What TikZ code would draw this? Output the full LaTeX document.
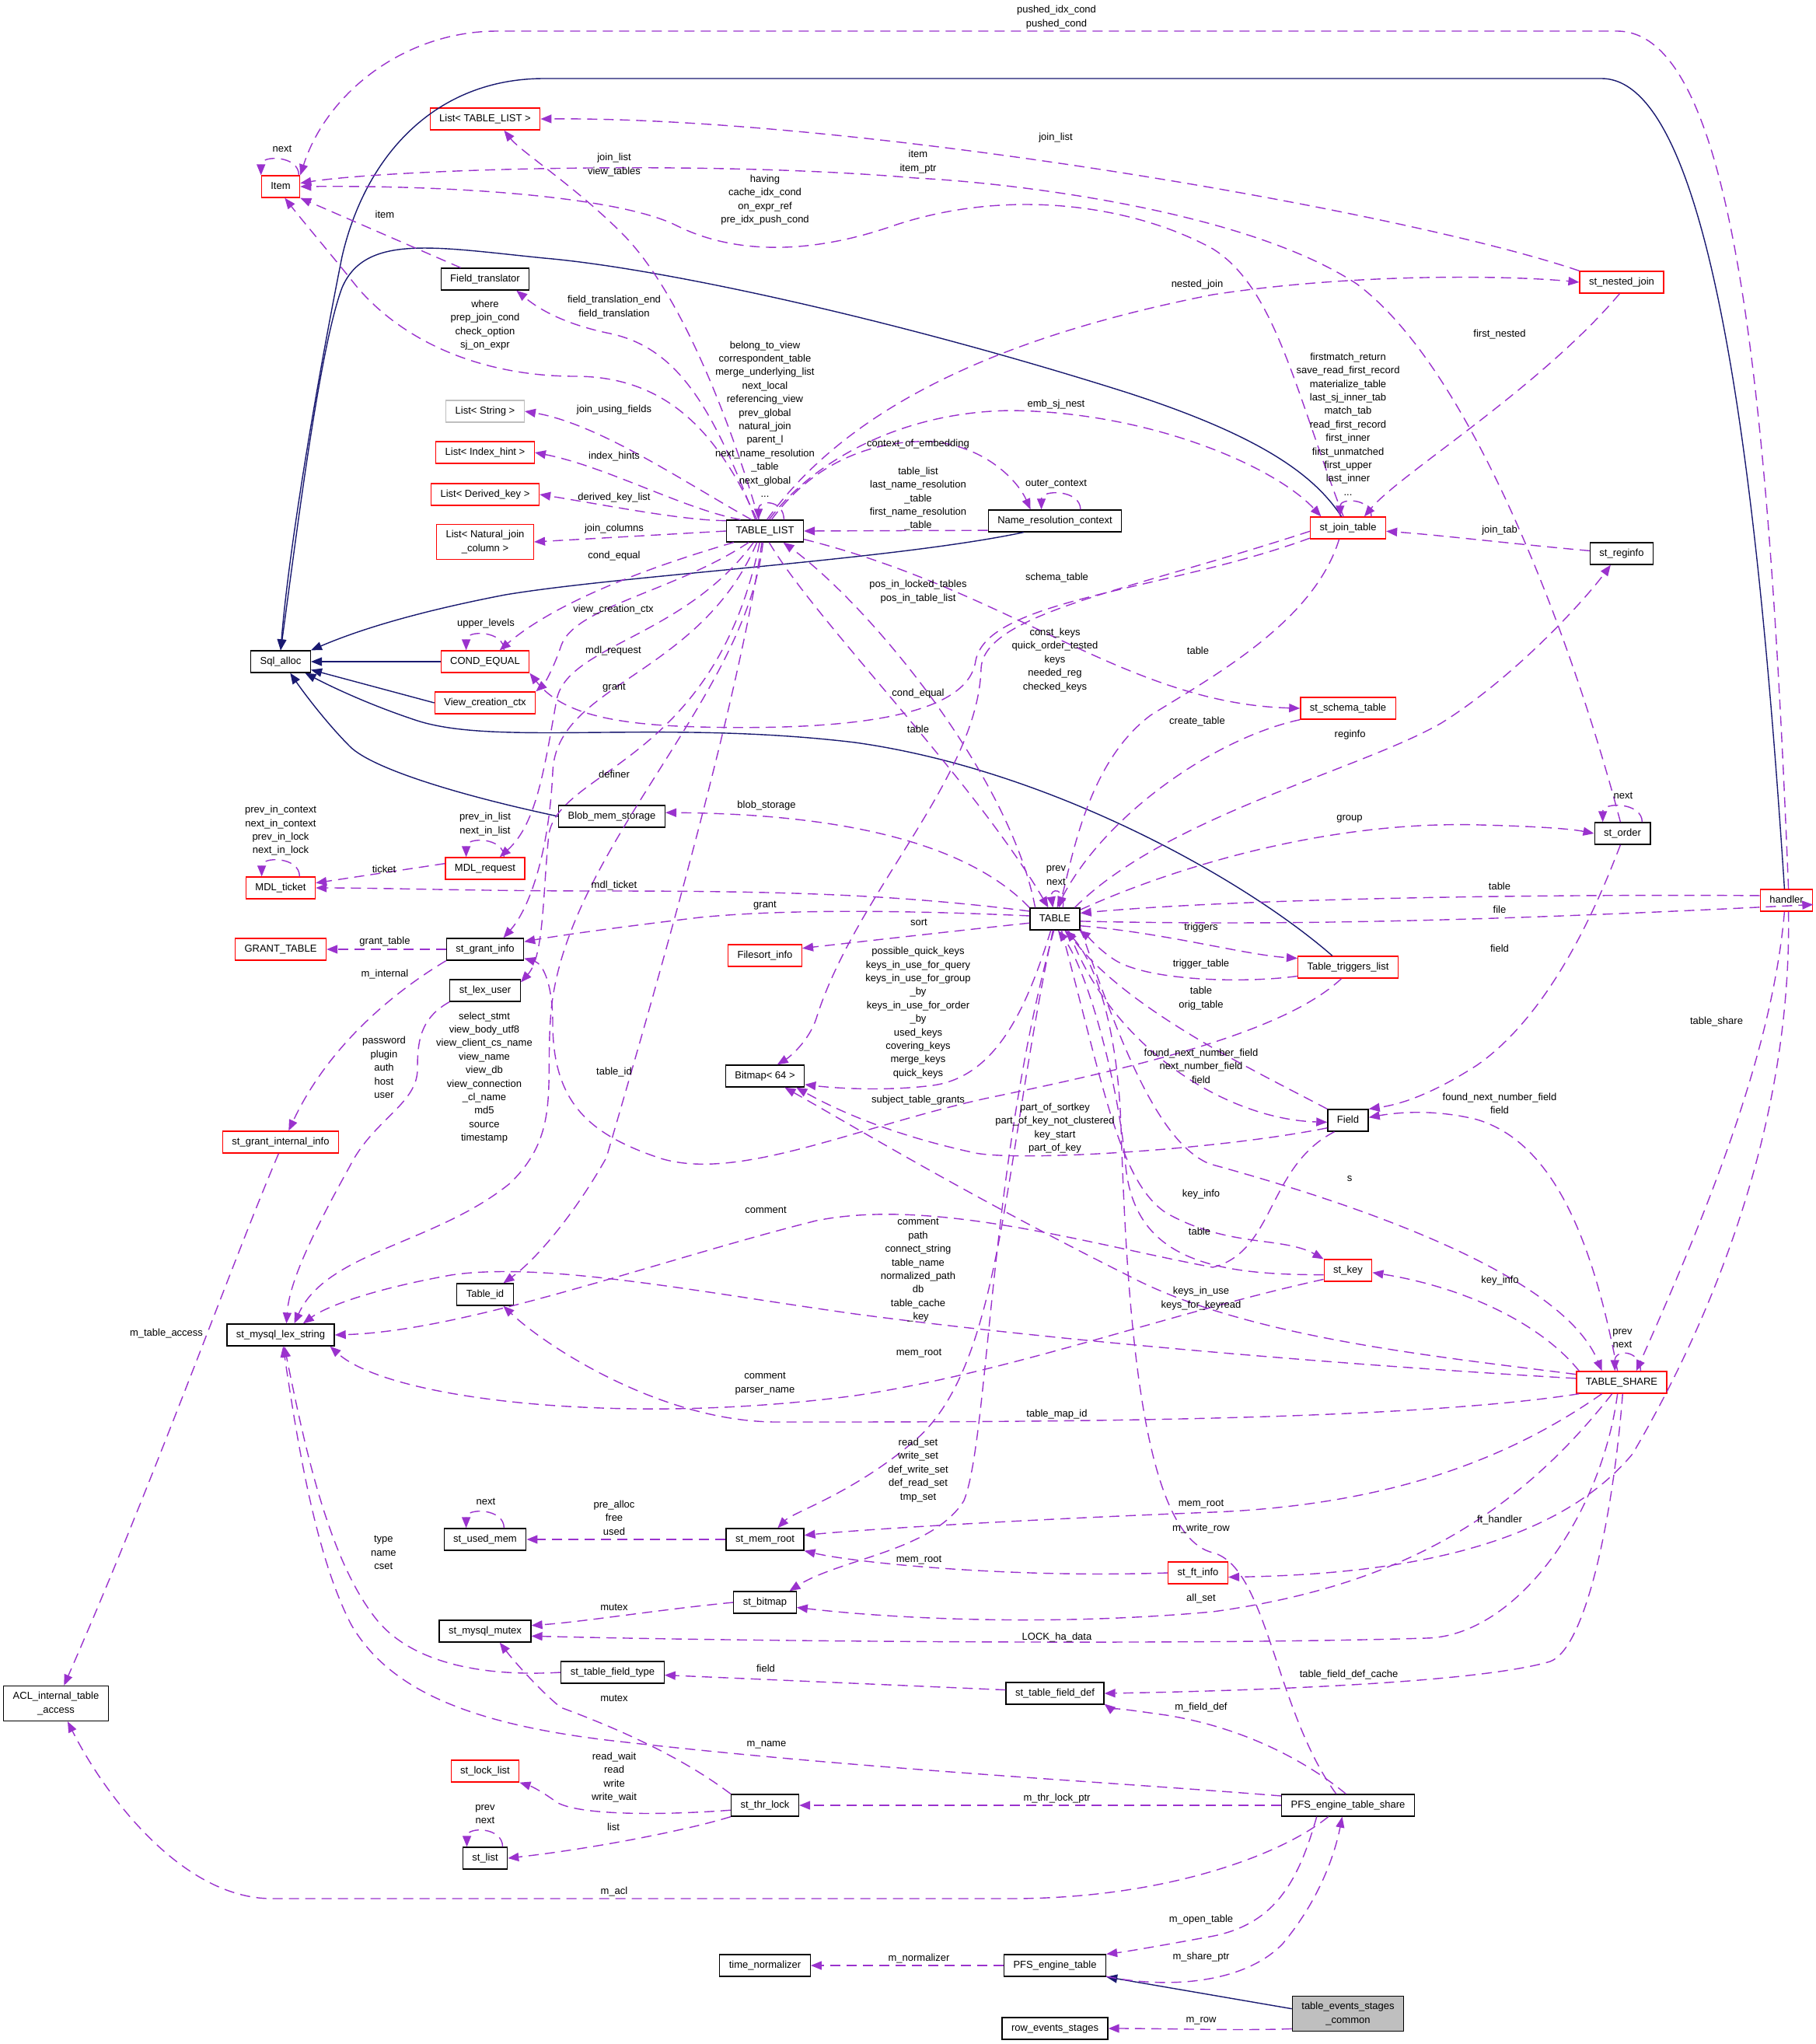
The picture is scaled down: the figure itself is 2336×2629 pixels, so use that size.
\documentclass[tikz,border=0pt]{standalone}
\usepackage{fontspec}
\setmainfont{Liberation Sans}
\usepackage{tikz}
\usetikzlibrary{arrows.meta}
\definecolor{edgepurple}{HTML}{9A32CD}
\definecolor{edgenavy}{HTML}{191970}
\definecolor{boxred}{HTML}{FF0000}
\definecolor{boxgray}{HTML}{BFBFBF}

\begin{document}
\begin{tikzpicture}[x=1pt, y=-1pt,
  every node/.style={font=\fontsize{13}{17.4}\selectfont},
  cls/.style={draw=black, line width=1.3pt, fill=white, inner xsep=12pt, inner ysep=7.75pt, text height=9.5pt, text depth=3pt},
  clstwo/.style={draw=black, line width=1.3pt, fill=white, inner xsep=12pt, inner ysep=7.75pt, align=center},
  clsred/.style={cls, draw=boxred},
  clsredtwo/.style={clstwo, draw=boxred},
  clsgray/.style={cls, draw=boxgray},
  clscurrent/.style={clstwo, fill=boxgray},
  uses/.style={draw=edgepurple, line width=1.4pt, dash pattern=on 13pt off 8pt, -{Triangle[length=14pt,width=11pt]}},
  isa/.style={draw=edgenavy, line width=1.4pt, -{Triangle[length=14pt,width=11pt]}},
  lbl/.style={inner sep=0pt, align=center}]

\useasboundingbox (0,0) rectangle (2336,2629);

% Column 1
\node [clsred] (item) at (361,240) {Item};
\node [cls] (sql_alloc) at (361,851) {Sql\_alloc};
\node [clsred] (mdl_ticket) at (361,1142) {MDL\_ticket};
\node [clsred] (grant_tab) at (361,1221) {GRANT\_TABLE};
\node [clsred] (grant_int) at (361,1469) {st\_grant\_internal\_info};
\node [cls] (lex_str) at (361,1717) {st\_mysql\_lex\_string};
\node [clstwo] (acl) at (72,2191) {ACL\_internal\_table\\\_access};

% Column 2
\node [clsred] (list_tl) at (624,153) {List< TABLE\_LIST >};
\node [cls] (field_tr) at (624,359) {Field\_translator};
\node [clsgray] (list_str) at (624,529) {List< String >};
\node [clsred] (list_idx) at (624,582) {List< Index\_hint >};
\node [clsred] (list_dk) at (624,636) {List< Derived\_key >};
\node [clsredtwo] (list_nj) at (624,697) {List< Natural\_join\\\_column >};
\node [clsred] (cond_eq) at (624,851) {COND\_EQUAL};
\node [clsred] (view_ctx) at (624,904) {View\_creation\_ctx};
\node [clsred] (mdl_req) at (624,1117) {MDL\_request};
\node [cls] (grant_info) at (624,1221) {st\_grant\_info};
\node [cls] (lex_user) at (624,1274) {st\_lex\_user};
\node [cls] (table_id) at (624,1665) {Table\_id};
\node [cls] (used_mem) at (624,1980) {st\_used\_mem};
\node [cls] (mutex) at (624,2098) {st\_mysql\_mutex};
\node [clsred] (lock_list) at (624,2278) {st\_lock\_list};
\node [cls] (st_list) at (624,2390) {st\_list};
\node [cls] (blob_mem) at (787,1050) {Blob\_mem\_storage};
\node [cls] (fld_type) at (788,2151) {st\_table\_field\_type};

% Column 3
\node [cls] (table_list) at (984,683) {TABLE\_LIST};
\node [clsred] (filesort) at (984,1229) {Filesort\_info};
\node [cls] (bitmap64) at (984,1384) {Bitmap< 64 >};
\node [cls] (mem_root) at (984,1980) {st\_mem\_root};
\node [cls] (st_bitmap) at (984,2061) {st\_bitmap};
\node [cls] (thr_lock) at (984,2322) {st\_thr\_lock};
\node [cls] (time_norm) at (984,2528) {time\_normalizer};

% Column 4
\node [cls] (name_res) at (1357,670) {Name\_resolution\_context};
\node [cls] (table) at (1357,1182) {TABLE};
\node [cls] (fld_def) at (1357,2178) {st\_table\_field\_def};
\node [cls] (pfs_table) at (1357,2528) {PFS\_engine\_table};
\node [cls] (row_ev) at (1357,2609) {row\_events\_stages};
\node [clsred] (ft_info) at (1541,2023) {st\_ft\_info};

% Column 5
\node [clsred] (join_tab) at (1734,679) {st\_join\_table};
\node [clsred] (schema) at (1734,911) {st\_schema\_table};
\node [clsred] (triggers) at (1734,1244) {Table\_triggers\_list};
\node [cls] (field) at (1734,1441) {Field};
\node [clsred] (st_key) at (1734,1634) {st\_key};
\node [cls] (pfs_share) at (1734,2322) {PFS\_engine\_table\_share};
\node [clscurrent] (tab_ev) at (1734,2590) {table\_events\_stages\\\_common};

% Column 6
\node [clsred] (nested_join) at (2086,363) {st\_nested\_join};
\node [cls] (reginfo) at (2086,712) {st\_reginfo};
\node [cls] (st_order) at (2087,1072) {st\_order};
\node [clsred] (table_share) at (2086,1778) {TABLE\_SHARE};
\node [clsred] (handler) at (2298,1158) {handler};

% inheritance
\draw [isa] (handler.100) .. controls (2260,600) and (2200,101) .. (2060,101) -- (700,101) .. controls (560,101) and (470,200) .. (440,330) .. controls (410,480) and (372,700) .. (sql_alloc.north);
\draw [isa] (join_tab.120) .. controls (1690,610) and (1620,560) .. (1450,505) .. controls (1150,410) and (850,345) .. (700,332) .. controls (560,318) and (470,300) .. (440,370) .. controls (410,450) and (380,700) .. (sql_alloc.north);
\draw [isa] (name_res.200) .. controls (1150,720) and (800,740) .. (650,765) .. controls (520,790) and (450,815) .. (sql_alloc.north east);
\draw [isa] (cond_eq.west) -- (sql_alloc.east);
\draw [isa] (view_ctx.west) -- (sql_alloc.-15);
\draw [isa] (triggers.144) .. controls (1600,1130) and (1350,990) .. (1100,955) .. controls (850,925) and (640,960) .. (537,927) .. controls (470,905) and (420,880) .. (sql_alloc.-25);
\draw [isa] (blob_mem.west) .. controls (600,1025) and (480,990) .. (450,960) .. controls (420,930) and (390,890) .. (sql_alloc.-50);
\draw [isa] (tab_ev.175) -- (pfs_table.south east);

% usage: top part
\draw [uses] (handler.80) .. controls (2275,500) and (2230,40) .. (2080,40) -- (640,40) .. controls (520,40) and (420,120) .. (item.north east);
\draw [uses] (item.32) .. controls +(0,-26) and +(0,-26) .. (item.150);
\draw [uses] (st_order.100) .. controls (2030,850) and (1900,480) .. (1745,365) .. controls (1600,270) and (1300,235) .. (1178,229) .. controls (900,205) and (500,218) .. (item.10);
\draw [uses] (join_tab.112) .. controls (1665,500) and (1640,370) .. (1560,320) .. controls (1460,265) and (1300,240) .. (1150,290) .. controls (1050,325) and (950,330) .. (870,290) .. controls (800,255) and (600,238) .. (item.east);
\draw [uses] (field_tr.155) -- (item.south east);
\draw [uses] (table_list.125) .. controls (925,560) and (860,484) .. (740,484) .. controls (620,484) and (520,440) .. (460,370) .. controls (420,320) and (390,285) .. (item.-70);
\draw [uses] (table_list.130) .. controls (915,520) and (870,445) .. (780,428) .. controls (720,415) and (690,395) .. (field_tr.-20);
\draw [uses] (table_list.118) .. controls (945,560) and (880,380) .. (800,300) .. controls (740,240) and (670,195) .. (list_tl.-31);
\draw [uses] (nested_join.north west) .. controls (1800,270) and (1100,150) .. (list_tl.east);
\draw [uses] (table_list.140) .. controls (880,620) and (770,545) .. (list_str.east);
\draw [uses] (table_list.155) .. controls (880,655) and (780,600) .. (list_idx.east);
\draw [uses] (table_list.165) .. controls (880,670) and (770,648) .. (list_dk.east);
\draw [uses] (table_list.west) -- (list_nj.east);
\draw [uses] (table_list.-160) .. controls (850,725) and (720,770) .. (cond_eq.38);
\draw [uses] (table_list.-145) .. controls (870,760) and (740,780) .. (722,830) .. controls (712,860) and (700,880) .. (view_ctx.north east);
\draw [uses] (cond_eq.31) .. controls +(0,-26) and +(0,-26) .. (cond_eq.149);
\draw [uses] (table_list.-135) .. controls (880,820) and (730,830) .. (716,900) .. controls (700,990) and (690,1060) .. (mdl_req.38);
\draw [uses] (table_list.-125) .. controls (900,870) and (715,880) .. (711,993) .. controls (706,1100) and (680,1170) .. (grant_info.32);
\draw [uses] (table_list.-115) .. controls (920,980) and (720,990) .. (706,1073) .. controls (698,1150) and (700,1230) .. (lex_user.13);
\draw [uses] (table_list.-105) .. controls (950,900) and (850,1250) .. (780,1489) .. controls (740,1560) and (690,1620) .. (table_id.32);
\draw [uses] (table_list.-100) .. controls (960,900) and (720,1100) .. (708,1312) .. controls (702,1400) and (720,1460) .. (656,1522) .. controls (560,1600) and (420,1610) .. (lex_str.40);
\draw [uses] (lex_user.south west) .. controls (540,1310) and (537,1340) .. (537,1375) .. controls (537,1420) and (480,1440) .. (450,1500) .. controls (400,1590) and (372,1650) .. (lex_str.63);
\draw [uses] (grant_info.west) -- (grant_tab.east);
\draw [uses] (grant_info.south west) .. controls (500,1280) and (420,1350) .. (grant_int.55);
\draw [uses] (grant_int.-100) .. controls (300,1620) and (200,1900) .. (acl.66);
\draw [uses] (mdl_req.173) -- (mdl_ticket.8);
\draw [uses] (mdl_ticket.31) .. controls +(0,-26) and +(0,-26) .. (mdl_ticket.149);
\draw [uses] (mdl_req.31) .. controls +(0,-26) and +(0,-26) .. (mdl_req.149);

% usage: TABLE_LIST and friends
\draw [uses] (table_list.-70) .. controls (1050,800) and (1250,1000) .. (table.120);
\draw [uses] (table.150) .. controls (1300,1000) and (1120,780) .. (table_list.-32);
\draw [uses] (table_list.-12) .. controls (1300,760) and (1450,905) .. (schema.west);
\draw [uses] (table_list.60) .. controls (1050,590) and (1130,565) .. (1200,568) .. controls (1270,575) and (1310,620) .. (name_res.155);
\draw [uses] (name_res.24) .. controls +(0,-26) and +(0,-26) .. (name_res.140);
\draw [uses] (name_res.188) -- (table_list.east);
\draw [uses] (table_list.70) .. controls (1040,600) and (1150,530) .. (1300,528) .. controls (1480,530) and (1640,600) .. (join_tab.157);
\draw [uses] (table_list.80) .. controls (1080,540) and (1250,440) .. (1560,379) .. controls (1750,350) and (1950,355) .. (nested_join.west);
\draw [uses] (table_list.31) .. controls +(0,-26) and +(0,-26) .. (table_list.120);
\draw [uses] (join_tab.195) .. controls (1500,760) and (1270,770) .. (1255,850) .. controls (1245,920) and (1100,940) .. (900,935) .. controls (780,932) and (720,915) .. (cond_eq.south east);
\draw [uses] (join_tab.-128) .. controls (1690,800) and (1560,870) .. (1480,920) .. controls (1400,980) and (1380,1100) .. (table.70);
\draw [uses] (join_tab.185) .. controls (1450,760) and (1265,790) .. (1262,860) .. controls (1258,1000) and (1100,1150) .. (1050,1310) .. controls (1040,1340) and (1015,1360) .. (bitmap64.43);
\draw [uses] (schema.south west) .. controls (1560,950) and (1420,1050) .. (table.80);
\draw [uses] (table.30) .. controls (1500,1050) and (1750,990) .. (1854,930) .. controls (1950,870) and (2040,770) .. (reginfo.-134);
\draw [uses] (reginfo.175) .. controls (1950,700) and (1850,688) .. (join_tab.-5);
\draw [uses] (nested_join.-100) .. controls (1980,500) and (1800,610) .. (join_tab.35);
\draw [uses] (join_tab.26) .. controls +(0,-24) and +(0,-24) .. (join_tab.125);

% usage: TABLE
\draw [uses] (table.20) .. controls (1500,1120) and (1700,1055) .. (1904,1061) .. controls (1980,1063) and (2020,1066) .. (st_order.west);
\draw [uses] (st_order.30) .. controls +(0,-26) and +(0,-26) .. (st_order.150);
\draw [uses] (handler.170) .. controls (2000,1150) and (1600,1155) .. (table.13);
\draw [uses] (table.-5) .. controls (1700,1192) and (2000,1180) .. (handler.-9);
\draw [uses] (st_order.-100) .. controls (2060,1150) and (2000,1300) .. (1900,1370) .. controls (1830,1415) and (1790,1422) .. (field.north east);
\draw [uses] (table.-15) .. controls (1500,1200) and (1600,1228) .. (triggers.170);
\draw [uses] (triggers.190) .. controls (1600,1265) and (1470,1262) .. (1430,1232) .. controls (1410,1218) and (1400,1205) .. (table.-25);
\draw [uses] (triggers.-120) .. controls (1650,1330) and (1450,1375) .. (1267,1413) .. controls (1100,1450) and (950,1520) .. (850,1490) .. controls (760,1460) and (711,1420) .. (711,1316) .. controls (711,1270) and (700,1240) .. (grant_info.-13);
\draw [uses] (table.163) .. controls (1150,1150) and (1000,1146) .. (780,1146) .. controls (600,1146) and (500,1142) .. (mdl_ticket.east);
\draw [uses] (table.173) .. controls (1150,1170) and (1000,1170) .. (900,1180) .. controls (800,1192) and (720,1203) .. (grant_info.11);
\draw [uses] (table.189) .. controls (1250,1195) and (1100,1212) .. (filesort.11);
\draw [uses] (table.north west) .. controls (1250,1090) and (1100,1047) .. (blob_mem.4);
\draw [uses] (table.55) .. controls +(4,-26) and +(-4,-26) .. (table.100);
\draw [uses] (table.-110) .. controls (1320,1300) and (1280,1385) .. (1200,1396) .. controls (1130,1405) and (1060,1398) .. (bitmap64.-12);
\draw [uses] (table.-100) .. controls (1290,1500) and (1290,1750) .. (1180,1850) .. controls (1100,1920) and (1020,1945) .. (mem_root.42);
\draw [uses] (table.-95) .. controls (1272,1500) and (1272,1850) .. (1240,1930) .. controls (1200,1995) and (1080,2005) .. (st_bitmap.25);
\draw [uses] (table.-20) .. controls (1440,1340) and (1490,1470) .. (1556,1497) .. controls (1750,1550) and (2010,1640) .. (table_share.150);
\draw [uses] (table.-60) .. controls (1420,1400) and (1440,1520) .. (1500,1560) .. controls (1580,1605) and (1650,1590) .. (st_key.north west);
\draw [uses] (st_key.190) .. controls (1560,1640) and (1460,1620) .. (1448,1500) .. controls (1440,1400) and (1400,1250) .. (table.-75);
\draw [uses] (field.north west) .. controls (1620,1380) and (1450,1300) .. (table.-45);
\draw [uses] (table.-40) .. controls (1430,1350) and (1580,1440) .. (field.185);
\draw [uses] (field.200) .. controls (1560,1480) and (1300,1495) .. (1250,1482) .. controls (1150,1460) and (1080,1430) .. (bitmap64.-20);
\draw [uses] (field.-140) .. controls (1630,1500) and (1640,1610) .. (1560,1630) .. controls (1400,1600) and (1200,1540) .. (1050,1570) .. controls (850,1620) and (600,1712) .. (lex_str.east);

% usage: TABLE_SHARE and handler
\draw [uses] (table_share.175) .. controls (1800,1760) and (1400,1730) .. (1100,1690) .. controls (900,1662) and (700,1622) .. (580,1640) .. controls (480,1658) and (420,1680) .. (lex_str.27);
\draw [uses] (st_key.-160) .. controls (1500,1690) and (1300,1765) .. (1100,1795) .. controls (800,1835) and (500,1800) .. (lex_str.-13);
\draw [uses] (table_share.-165) .. controls (1800,1829) and (1300,1829) .. (1000,1829) .. controls (850,1829) and (700,1730) .. (table_id.-32);
\draw [uses] (table_share.170) .. controls (1850,1745) and (1600,1720) .. (1450,1640) .. controls (1250,1540) and (1100,1450) .. (bitmap64.-30);
\draw [uses] (table_share.110) .. controls (2050,1600) and (2000,1470) .. (1900,1440) .. controls (1840,1425) and (1790,1432) .. (field.8);
\draw [uses] (table_share.165) .. controls (1980,1700) and (1880,1655) .. (st_key.-5);
\draw [uses] (table_share.31) .. controls +(0,-28) and +(0,-28) .. (table_share.121);
\draw [uses] (handler.-100) .. controls (2280,1350) and (2200,1550) .. (table_share.38);
\draw [uses] (handler.-80) .. controls (2305,1450) and (2200,1700) .. (2100,1870) .. controls (2000,1990) and (1800,2025) .. (ft_info.-8);
\draw [uses] (table_share.-150) .. controls (1950,1870) and (1800,1935) .. (1560,1945) .. controls (1300,1955) and (1100,1968) .. (mem_root.6);
\draw [uses] (ft_info.west) .. controls (1300,2030) and (1100,2010) .. (mem_root.south east);
\draw [uses] (table_share.-130) .. controls (1950,1950) and (1800,2040) .. (1560,2073) .. controls (1350,2092) and (1150,2082) .. (st_bitmap.-9);
\draw [uses] (table_share.-110) .. controls (2060,1950) and (1950,2105) .. (1834,2107) .. controls (1500,2117) and (900,2110) .. (mutex.-6);
\draw [uses] (table_share.-85) .. controls (2075,1950) and (2040,2120) .. (1994,2137) .. controls (1900,2165) and (1600,2175) .. (fld_def.east);

% usage: bottom part
\draw [uses] (pfs_share.136) .. controls (1640,2200) and (1630,2015) .. (1560,1997) .. controls (1470,1975) and (1450,1700) .. (1442,1450) .. controls (1437,1300) and (1400,1225) .. (table.-50);
\draw [uses] (pfs_share.100) .. controls (1680,2265) and (1600,2222) .. (1500,2206) .. controls (1450,2199) and (1425,2195) .. (fld_def.-12);
\draw [uses] (fld_def.176) -- (fld_type.-3);
\draw [uses] (fld_type.west) .. controls (600,2158) and (520,2130) .. (482,2080) .. controls (420,2000) and (390,1850) .. (lex_str.-72);
\draw [uses] (pfs_share.172) .. controls (1400,2290) and (1100,2275) .. (780,2238) .. controls (600,2216) and (500,2172) .. (452,2090) .. controls (405,2000) and (382,1850) .. (lex_str.-78);
\draw [uses] (pfs_share.west) -- (thr_lock.east);
\draw [uses] (pfs_share.-150) .. controls (1650,2385) and (1500,2442) .. (1300,2442) -- (350,2442) .. controls (230,2442) and (130,2300) .. (acl.-57);
\draw [uses] (pfs_share.-160) .. controls (1670,2420) and (1640,2476) .. (1556,2491) .. controls (1490,2503) and (1450,2510) .. (pfs_table.north east);
\draw [uses] (pfs_table.-12) .. controls (1500,2558) and (1600,2552) .. (1650,2500) .. controls (1700,2440) and (1718,2380) .. (pfs_share.-117);
\draw [uses] (pfs_table.west) -- (time_norm.east);
\draw [uses] (tab_ev.-165) .. controls (1600,2612) and (1500,2609) .. (row_ev.east);
\draw [uses] (thr_lock.north west) .. controls (880,2262) and (800,2225) .. (721,2196) .. controls (690,2170) and (660,2135) .. (mutex.-38);
\draw [uses] (thr_lock.188) .. controls (850,2335) and (745,2335) .. (716,2318) .. controls (700,2306) and (685,2298) .. (lock_list.south east);
\draw [uses] (thr_lock.south west) .. controls (880,2355) and (760,2378) .. (st_list.east);
\draw [uses] (st_list.33) .. controls +(0,-26) and +(0,-26) .. (st_list.148);
\draw [uses] (st_bitmap.west) .. controls (850,2070) and (750,2086) .. (mutex.7);
\draw [uses] (mem_root.west) -- (used_mem.east);
\draw [uses] (used_mem.31) .. controls +(0,-26) and +(0,-26) .. (used_mem.149);

% labels
\node [lbl] (l_pushed) at (1359,22) {pushed\_idx\_cond\\pushed\_cond};
\node [lbl] (l_item_next) at (363,191) {next};
\node [lbl] (l_join_list) at (790,212) {join\_list\\view\_tables};
\node [lbl] (l_item_ord) at (1181,208) {item\\item\_ptr};
\node [lbl] (l_nj_list) at (1358,177) {join\_list};
\node [lbl] (l_having) at (984,257) {having\\cache\_idx\_cond\\on\_expr\_ref\\pre\_idx\_push\_cond};
\node [lbl] (l_ft_item) at (495,276) {item};
\node [lbl] (l_nested) at (1540,366) {nested\_join};
\node [lbl] (l_fieldtr) at (790,395) {field\_translation\_end\\field\_translation};
\node [lbl] (l_where) at (624,418) {where\\prep\_join\_cond\\check\_option\\sj\_on\_expr};
\node [lbl] (l_first_nested) at (1929,430) {first\_nested};
\node [lbl] (l_tl_self) at (984,539) {belong\_to\_view\\correspondent\_table\\merge\_underlying\_list\\next\_local\\referencing\_view\\prev\_global\\natural\_join\\parent\_l\\next\_name\_resolution\\\_table\\next\_global\\...};
\node [lbl] (l_jt_self) at (1734,545.5) {firstmatch\_return\\save\_read\_first\_record\\materialize\_table\\last\_sj\_inner\_tab\\match\_tab\\read\_first\_record\\first\_inner\\first\_unmatched\\first\_upper\\last\_inner\\...};
\node [lbl] (l_emb) at (1358.5,520.6) {emb\_sj\_nest};
\node [lbl] (l_ctx_emb) at (1181,571.6) {context\_of\_embedding};
\node [lbl] (l_using) at (790,527) {join\_using\_fields};
\node [lbl] (l_idx) at (790,587) {index\_hints};
\node [lbl] (l_outer) at (1358.5,623) {outer\_context};
\node [lbl] (l_tbl_list) at (1181,641.75) {table\_list\\last\_name\_resolution\\\_table\\first\_name\_resolution\\\_table};
\node [lbl] (l_dk) at (790,640) {derived\_key\_list};
\node [lbl] (l_jc) at (790,680) {join\_columns};
\node [lbl] (l_join_tab) at (1929,682.5) {join\_tab};
\node [lbl] (l_ceq1) at (790,715) {cond\_equal};
\node [lbl] (l_schema) at (1359.5,743.5) {schema\_table};
\node [lbl] (l_pos) at (1181,761) {pos\_in\_locked\_tables\\pos\_in\_table\_list};
\node [lbl] (l_vcc) at (789,784) {view\_creation\_ctx};
\node [lbl] (l_upper) at (625,802.5) {upper\_levels};
\node [lbl] (l_jt_table) at (1541,837) {table};
\node [lbl] (l_mdl_req) at (789,837) {mdl\_request};
\node [lbl] (l_const) at (1357,849) {const\_keys\\quick\_order\_tested\\keys\\needed\_reg\\checked\_keys};
\node [lbl] (l_grant1) at (790,885) {grant};
\node [lbl] (l_ceq2) at (1181,891.7) {cond\_equal};
\node [lbl] (l_create) at (1540,928) {create\_table};
\node [lbl] (l_tl_table) at (1181,938) {table};
\node [lbl] (l_reginfo) at (1736.6,944.7) {reginfo};
\node [lbl] (l_definer) at (790,996) {definer};
\node [lbl] (l_order_next) at (2088,1023.5) {next};
\node [lbl] (l_blob) at (986,1036) {blob\_storage};
\node [lbl] (l_group) at (1736,1053) {group};
\node [lbl] (l_mdlreq_self) at (624,1060) {prev\_in\_list\\next\_in\_list};
\node [lbl] (l_mdlt_self) at (361,1068.3) {prev\_in\_context\\next\_in\_context\\prev\_in\_lock\\next\_in\_lock};
\node [lbl] (l_ticket) at (494,1118) {ticket};
\node [lbl] (l_table_self) at (1358.5,1126) {prev\\next};
\node [lbl] (l_mdl_ticket) at (790,1139) {mdl\_ticket};
\node [lbl] (l_h_table) at (1929,1140) {table};
\node [lbl] (l_grant2) at (984,1165) {grant};
\node [lbl] (l_file) at (1929,1170) {file};
\node [lbl] (l_sort) at (1182,1186) {sort};
\node [lbl] (l_triggers) at (1545,1193) {triggers};
\node [lbl] (l_grant_table) at (495,1211.6) {grant\_table};
\node [lbl] (l_field_ord) at (1929,1220) {field};
\node [lbl] (l_trig_table) at (1545,1240) {trigger\_table};
\node [lbl] (l_m_internal) at (495,1253) {m\_internal};
\node [lbl] (l_orig) at (1545,1284) {table\\orig\_table};
\node [lbl] (l_pqk) at (1181,1302.6) {possible\_quick\_keys\\keys\_in\_use\_for\_query\\keys\_in\_use\_for\_group\\\_by\\keys\_in\_use\_for\_order\\\_by\\used\_keys\\covering\_keys\\merge\_keys\\quick\_keys};
\node [lbl] (l_tshare) at (2208,1314) {table\_share};
\node [lbl] (l_lexuser) at (494,1373) {password\\plugin\\auth\\host\\user};
\node [lbl] (l_fnnf) at (1545,1371) {found\_next\_number\_field\\next\_number\_field\\field};
\node [lbl] (l_tableid) at (790,1379) {table\_id};
\node [lbl] (l_select) at (623,1386) {select\_stmt\\view\_body\_utf8\\view\_client\_cs\_name\\view\_name\\view\_db\\view\_connection\\\_cl\_name\\md5\\source\\timestamp};
\node [lbl] (l_subject) at (1181,1415.5) {subject\_table\_grants};
\node [lbl] (l_fnf2) at (1929,1419.5) {found\_next\_number\_field\\field};
\node [lbl] (l_part) at (1357,1451) {part\_of\_sortkey\\part\_of\_key\_not\_clustered\\key\_start\\part\_of\_key};
\node [lbl] (l_s) at (1736,1516) {s};
\node [lbl] (l_key_info1) at (1545,1536) {key\_info};
\node [lbl] (l_comment1) at (985,1556) {comment};
\node [lbl] (l_key_table) at (1543,1584) {table};
\node [lbl] (l_comment8) at (1181,1634) {comment\\path\\connect\_string\\table\_name\\normalized\_path\\db\\table\_cache\\\_key};
\node [lbl] (l_key_info2) at (1929.5,1647.5) {key\_info};
\node [lbl] (l_keys_use) at (1545,1670) {keys\_in\_use\\keys\_for\_keyread};
\node [lbl] (l_tab_access) at (214,1715) {m\_table\_access};
\node [lbl] (l_ts_self) at (2087,1721.75) {prev\\next};
\node [lbl] (l_mem_root1) at (1182,1740.5) {mem\_root};
\node [lbl] (l_parser) at (984,1779.5) {comment\\parser\_name};
\node [lbl] (l_table_map) at (1359.5,1819) {table\_map\_id};
\node [lbl] (l_read_set) at (1181,1891) {read\_set\\write\_set\\def\_write\_set\\def\_read\_set\\tmp\_set};
\node [lbl] (l_used_next) at (625,1931.6) {next};
\node [lbl] (l_mem_root2) at (1545,1935) {mem\_root};
\node [lbl] (l_pre_alloc) at (790,1952) {pre\_alloc\\free\\used};
\node [lbl] (l_ft_handler) at (1929,1955) {ft\_handler};
\node [lbl] (l_write_row) at (1545,1966) {m\_write\_row};
\node [lbl] (l_type) at (493.4,1996.9) {type\\name\\cset};
\node [lbl] (l_mem_root3) at (1182,2006.8) {mem\_root};
\node [lbl] (l_all_set) at (1545,2055.7) {all\_set};
\node [lbl] (l_mutex1) at (790,2067) {mutex};
\node [lbl] (l_lock_ha) at (1359.5,2106) {LOCK\_ha\_data};
\node [lbl] (l_field_def) at (985,2146) {field};
\node [lbl] (l_tfdc) at (1735,2154) {table\_field\_def\_cache};
\node [lbl] (l_mutex2) at (790,2184) {mutex};
\node [lbl] (l_field_def2) at (1545,2196.5) {m\_field\_def};
\node [lbl] (l_m_name) at (986,2244.6) {m\_name};
\node [lbl] (l_read_wait) at (790,2286) {read\_wait\\read\\write\\write\_wait};
\node [lbl] (l_thr_ptr) at (1359.5,2313) {m\_thr\_lock\_ptr};
\node [lbl] (l_list_self) at (624,2333.5) {prev\\next};
\node [lbl] (l_list) at (789,2350) {list};
\node [lbl] (l_acl) at (790,2433) {m\_acl};
\node [lbl] (l_open) at (1545,2469) {m\_open\_table};
\node [lbl] (l_share_ptr) at (1545,2517) {m\_share\_ptr};
\node [lbl] (l_norm) at (1182,2519) {m\_normalizer};
\node [lbl] (l_row) at (1545,2599) {m\_row};

\end{tikzpicture}
\end{document}
